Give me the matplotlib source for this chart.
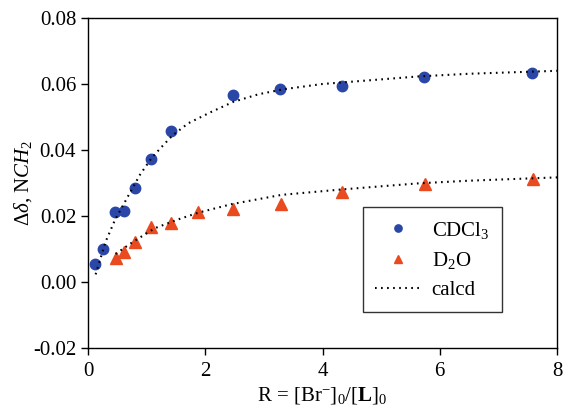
import matplotlib
matplotlib.use("Agg")
import matplotlib.pyplot as plt

plt.rcParams['font.family'] = ['Liberation Serif', 'DejaVu Serif']
plt.rcParams['mathtext.fontset'] = 'custom'
plt.rcParams['mathtext.rm'] = 'Liberation Serif'
plt.rcParams['mathtext.it'] = 'Liberation Serif:italic'
plt.rcParams['mathtext.bf'] = 'Liberation Serif:bold'

# Data
cdcl3_x = [0.12, 0.26, 0.46, 0.61, 0.80, 1.07, 1.41, 2.47, 3.28, 4.33, 5.73, 7.58]
cdcl3_y = [0.0055, 0.0101, 0.0213, 0.0216, 0.0286, 0.0373, 0.0457, 0.0568, 0.0586, 0.0594, 0.0622, 0.0632]

d2o_x = [0.47, 0.62, 0.81, 1.08, 1.42, 1.88, 2.48, 3.29, 4.34, 5.74, 7.59]
d2o_y = [0.0072, 0.0092, 0.0120, 0.0168, 0.0178, 0.0211, 0.0222, 0.0236, 0.0272, 0.0296, 0.0313]

calc_cdcl3_x = [0.13, 0.30, 0.46, 0.68, 0.89, 1.09, 1.27, 1.44, 1.71, 2.11, 2.48, 2.91, 3.33, 4.0, 5.0, 5.64, 6.5, 8.0]
calc_cdcl3_y = [0.0023, 0.0122, 0.0188, 0.0259, 0.0326, 0.0377, 0.0412, 0.0444, 0.0481, 0.0516, 0.0546, 0.0569, 0.0584, 0.0600, 0.0614, 0.0623, 0.0631, 0.0640]

calc_d2o_x = [0.47, 0.77, 1.14, 1.51, 1.88, 2.45, 3.30, 4.3, 5.0, 5.64, 6.5, 8.0]
calc_d2o_y = [0.0085, 0.0122, 0.0163, 0.0188, 0.0210, 0.0236, 0.0264, 0.0280, 0.0290, 0.0299, 0.0307, 0.0317]

xticks = [0, 2, 4, 6, 8]
yticks = [-0.02, 0.00, 0.02, 0.04, 0.06, 0.08]

fig = plt.figure(figsize=(5.65, 4.05), dpi=100)
ax = fig.add_axes([88/565, 57/405, 469/565, 330/405])

dot_style = (0, (0.8, 2.1))
ax.plot(cdcl3_x, cdcl3_y, 'o', color='#2a47a8', markersize=7.5, label='CDCl$_3$', zorder=3)
ax.plot(d2o_x, d2o_y, '^', color='#ea4a1f', markersize=8.5, label='D$_2$O', zorder=3)
ax.plot(calc_cdcl3_x, calc_cdcl3_y, linestyle=dot_style, color='black', linewidth=1.5, label='calcd', zorder=4)
ax.plot(calc_d2o_x, calc_d2o_y, linestyle=dot_style, color='black', linewidth=1.5, zorder=4)

ax.set_xlim(0, 8)
ax.set_ylim(-0.02, 0.08)
ax.set_xticks(xticks)
ax.set_xticklabels([str(t) for t in xticks])
ax.set_yticks(yticks)
ax.set_yticklabels(['%.2f' % t for t in yticks])
ax.tick_params(axis='both', direction='out', length=5, width=1, labelsize=15, top=False, right=False)
ax.tick_params(axis='x', pad=5)
for s in ax.spines.values():
    s.set_linewidth(1)

ax.set_xlabel(r'R = [Br$^{\mathrm{-}}$]$_0$/[$\mathbf{L}$]$_0$', fontsize=15, labelpad=3)
ax.set_ylabel(r'$\Delta\delta$, N$\mathit{CH}_2$', fontsize=15, labelpad=-1)

leg = ax.legend(loc='upper left', bbox_to_anchor=(0.586, 0.427), fontsize=15,
                frameon=True, fancybox=False, edgecolor='#333333', framealpha=1,
                borderaxespad=0, borderpad=0.6, labelspacing=0.45, handlelength=2.2,
                handletextpad=0.5, markerscale=0.7)
leg.get_frame().set_linewidth(1)

fig.savefig('out.png', dpi=100)
